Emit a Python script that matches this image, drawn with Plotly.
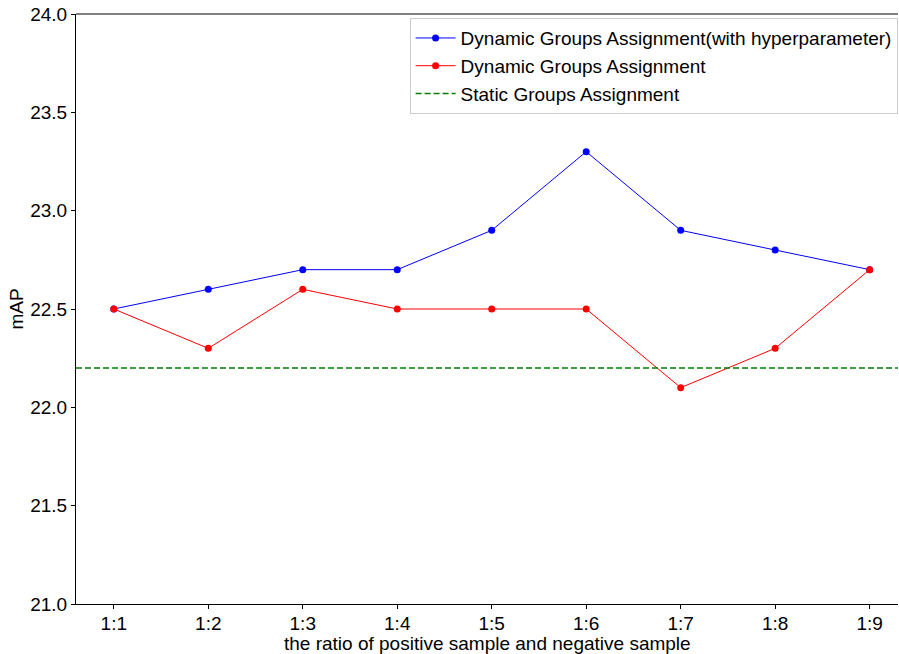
import plotly.graph_objects as go

ratios = ["1:1", "1:2", "1:3", "1:4", "1:5", "1:6", "1:7", "1:8", "1:9"]
dyn_hyper = [22.5, 22.6, 22.7, 22.7, 22.9, 23.3, 22.9, 22.8, 22.7]
dyn = [22.5, 22.3, 22.6, 22.5, 22.5, 22.5, 22.1, 22.3, 22.7]
static_map = 22.2
y_ticks = [21.0, 21.5, 22.0, 22.5, 23.0, 23.5, 24.0]

xs = list(range(len(ratios)))

fig = go.Figure()
fig.add_trace(go.Scatter(
    x=xs, y=dyn_hyper, mode="lines+markers",
    name="Dynamic Groups Assignment(with hyperparameter)",
    line=dict(color="blue", width=1), marker=dict(color="blue", size=7),
))
fig.add_trace(go.Scatter(
    x=xs, y=dyn, mode="lines+markers",
    name="Dynamic Groups Assignment",
    line=dict(color="red", width=1), marker=dict(color="red", size=7),
))
fig.add_trace(go.Scatter(
    x=[-0.4, 8.3], y=[static_map, static_map], mode="lines",
    name="Static Groups Assignment",
    line=dict(color="green", width=1.5, dash="6px,3px"),
))

font = dict(family="Liberation Sans, Arial, sans-serif", size=19, color="black")
fig.update_layout(
    width=899, height=654,
    margin=dict(l=76, r=1, t=14, b=50),
    paper_bgcolor="white", plot_bgcolor="white",
    font=font,
    showlegend=True,
    legend=dict(
        x=0.9995, y=0.993, xanchor="right", yanchor="top",
        bgcolor="rgba(255,255,255,0.8)", bordercolor="#cccccc", borderwidth=1,
        font=font,
        itemwidth=40, tracegroupgap=0,
    ),
)
fig.update_xaxes(
    range=[-0.4, 8.3], tickmode="array", tickvals=xs, ticktext=ratios,
    showgrid=False, zeroline=False, showline=True, linecolor="black", linewidth=1,
    ticks="outside", ticklen=4, tickcolor="black", mirror=False,
    ticklabelstandoff=-2,
)
fig.update_yaxes(
    range=[21, 24], tickmode="array", tickvals=y_ticks,
    ticktext=[f"{v:.1f}" for v in y_ticks],
    showgrid=False, zeroline=False, showline=True, linecolor="black", linewidth=1,
    ticks="outside", ticklen=4, tickcolor="black",
    title=dict(text="mAP", font=font, standoff=1),
)
# x-axis title placed just under the tick labels
fig.add_annotation(
    text="the ratio of positive sample and negative sample",
    xref="paper", yref="paper", x=0.5, y=-27 / 590,
    xanchor="center", yanchor="top", showarrow=False, font=font,
)
# top spine
fig.add_shape(type="line", xref="paper", yref="paper", x0=0, x1=1, y0=1, y1=1,
              line=dict(color="black", width=1))

fig.write_html("out.html")
